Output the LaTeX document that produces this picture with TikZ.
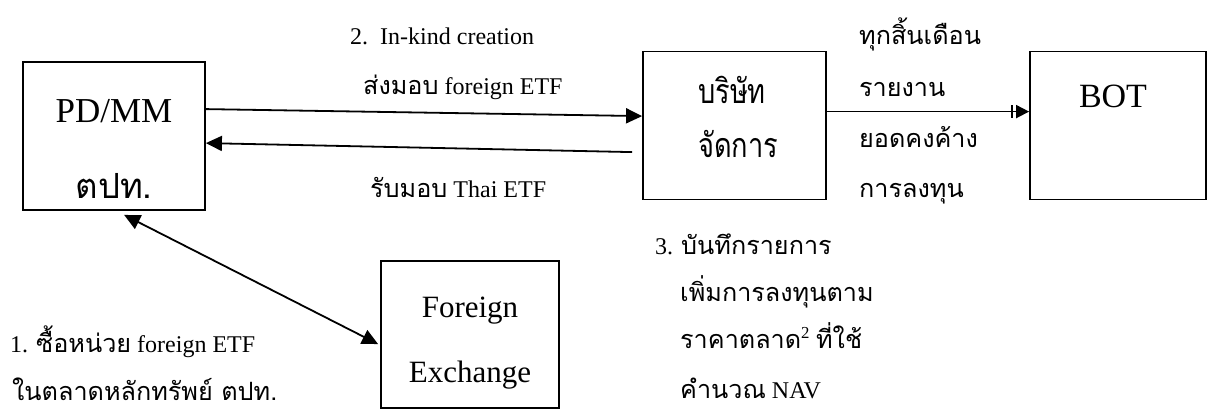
\documentclass[tikz,border=0pt]{standalone}
\usepackage{fontspec}
\setmainfont{Liberation Serif}
\newfontfamily\thai[Script=Thai,Scale=1.05]{Loma}
\newfontfamily\thaic[Script=Thai,FakeStretch=0.8]{Loma}
\usetikzlibrary{arrows.meta,calc}
\tikzset{
  box/.style={draw,line width=1.8pt,inner sep=0pt},
  lbl/.style={inner sep=0pt,font=\fontsize{24}{28}\selectfont},
  big/.style={inner sep=0pt,font=\fontsize{35}{40}\selectfont},
  arr/.style={line width=1.8pt,-{Triangle[length=16pt,width=15pt]}},
  darr/.style={line width=1.8pt,{Triangle[length=16pt,width=15pt]}-{Triangle[length=16pt,width=15pt]}},
  barr/.style={line width=1.8pt,-{Bar[width=13pt,line width=1.8pt,sep=3pt]Triangle[length=13pt,width=13pt]}}
}
\begin{document}
\begin{tikzpicture}[x=1pt,y=-1pt]
\useasboundingbox (0,0) rectangle (1208,409);
% boxes
\node[box,minimum width=182pt,minimum height=148pt] (pd) at (114,136) {};
\node[box,minimum width=183pt,minimum height=148pt] (co) at (734.5,125.5) {};
\node[box,minimum width=176pt,minimum height=148pt] (bot) at (1118,125.5) {};
\node[box,minimum width=178pt,minimum height=147pt] (fe) at (470,334.5) {};
% box texts
\node[big,anchor=base] (pdt1) at (114,123) {PD/MM};
\node[big,anchor=base] (pdt2) at (114,199) {\fontsize{33}{38}\selectfont\thai ตปท.};
\node[big,anchor=base west] (cot1) at (698,104) {\fontsize{34}{38}\selectfont\thaic บริษัท};
\node[big,anchor=base west] (cot2) at (698,158) {\fontsize{34}{38}\selectfont\thaic จัดการ};
\node[big,anchor=base] (bott) at (1113,108) {\fontsize{34}{38}\selectfont BOT};
\node[big,anchor=base] (fet1) at (470,317) {\fontsize{31}{36}\selectfont Foreign};
\node[big,anchor=base] (fet2) at (470,382) {\fontsize{31}{36}\selectfont Exchange};
% labels
\node[lbl,anchor=base west] (l2a) at (350,45) {2.\hspace{0.5em}In-kind creation};
\node[lbl,anchor=base west] (l2b) at (363,95) {{\thai ส่งมอบ} foreign ETF};
\node[lbl,anchor=base west] (l2c) at (370,197) {{\thai รับมอบ} Thai ETF};
\node[lbl,anchor=base west] (r1) at (859,45) {\thai ทุกสิ้นเดือน};
\node[lbl,anchor=base west] (r2) at (859,97) {\thai รายงาน};
\node[lbl,anchor=base west] (r3) at (859,148) {\thai ยอดคงค้าง};
\node[lbl,anchor=base west] (r4) at (859,197) {\thai การลงทุน};
\node[lbl,anchor=base west] (l1a) at (10,352) {1. {\thai ซื้อหน่วย} foreign ETF};
\node[lbl,anchor=base west] (l1b) at (12,400) {\thai ในตลาดหลักทรัพย์ ตปท.};
\node[lbl,anchor=base west] (l3a) at (655,254) {3. {\thai บันทึกรายการ}};
\node[lbl,anchor=base west] (l3b) at (680,301) {\thai เพิ่มการลงทุนตาม};
\node[lbl,anchor=base west] (l3c) at (680,348) {{\thai ราคาตลาด}\textsuperscript{2} {\thai ที่ใช้}};
\node[lbl,anchor=base west] (l3d) at (680,398) {{\thai คำนวณ} NAV};
% connectors
\draw[arr] ($(pd.north east)+(0,48)$) -- ($(co.north west)+(0,65.5)$);
\draw[arr] ($(co.north west)+(-10,101.5)$) -- ($(pd.north east)+(0,82)$);
\draw[barr] ($(co.north east)+(0,61)$) -- ($(bot.north west)+(0,61)$);
\draw[darr] ($(pd.south west)+(102,4)$) -- ($(fe.north west)+(-2,84)$);
\end{tikzpicture}
\end{document}
